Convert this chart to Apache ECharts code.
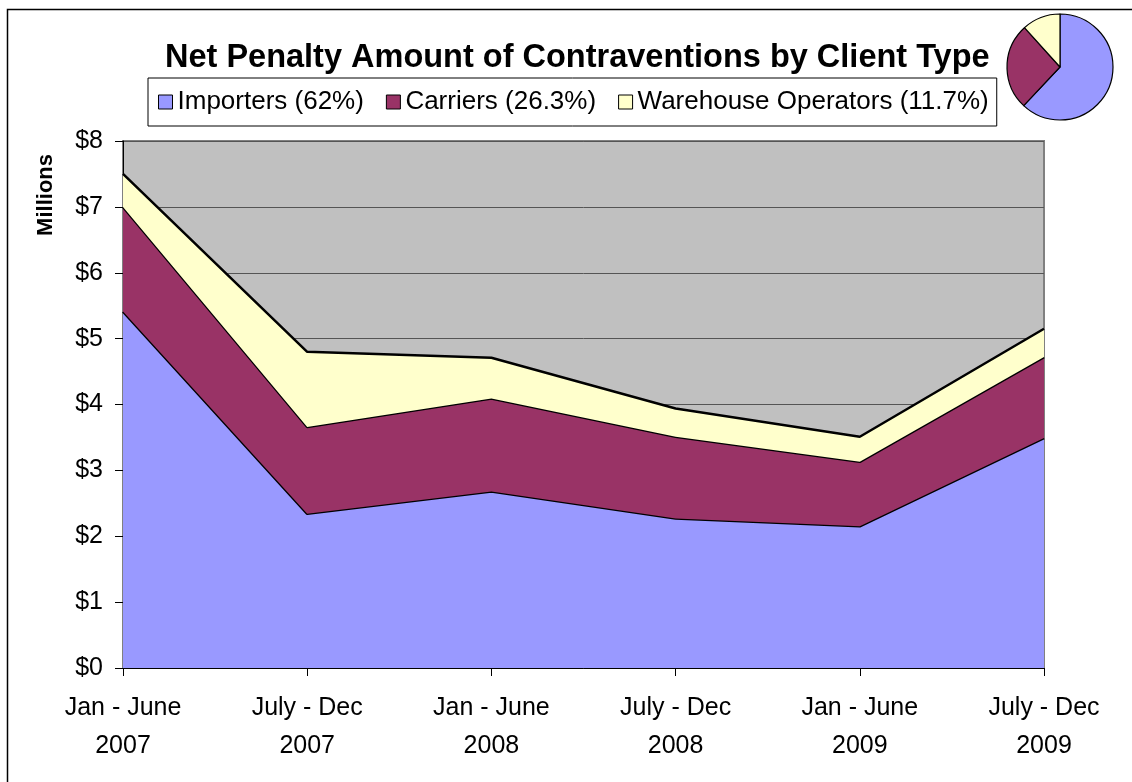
<!DOCTYPE html>
<html>
<head>
<meta charset="utf-8">
<script src="https://cdn.jsdelivr.net/npm/echarts@6/dist/echarts.min.js"></script>
<style>
html,body{margin:0;padding:0;background:#fff;}
#chart{width:1132px;height:782px;}
</style>
</head>
<body>
<div id="chart"></div>
<script>
// ---- data ----
const periods = ['Jan - June', 'July - Dec', 'Jan - June', 'July - Dec', 'Jan - June', 'July - Dec'];
const years = ['2007', '2007', '2008', '2008', '2009', '2009'];
const seriesNames = ['Importers', 'Carriers', 'Warehouse Operators'];
const importers = [5.41, 2.34, 2.68, 2.27, 2.15, 3.49];
const carriers = [1.59, 1.32, 1.41, 1.24, 0.98, 1.23];
const warehouse = [0.50, 1.14, 0.62, 0.43, 0.38, 0.43];
const shares = [62, 26.3, 11.7];
const yTicks = [0, 1, 2, 3, 4, 5, 6, 7, 8];

const colors = ['#9999FF', '#993366', '#FFFFCC'];
const categories = periods.map((p, i) => p + '\n' + years[i]);
const labels = seriesNames.map((n, i) => n + ' (' + shares[i] + '%)');
const values = [importers, carriers, warehouse];

const chart = echarts.init(document.getElementById('chart'));
const font = 'Liberation Sans, Arial, sans-serif';

const areaSeries = values.map((v, i) => ({
  name: labels[i],
  type: 'line',
  stack: 'total',
  data: v,
  symbol: 'none',
  z: 2 + i,
  lineStyle: { color: '#000', width: 2.5 },
  itemStyle: { color: colors[i], borderColor: '#000' },
  areaStyle: { color: colors[i], opacity: 1 }
}));

chart.setOption({
  animation: false,
  textStyle: { fontFamily: font },
  title: {
    text: 'Net Penalty Amount of Contraventions by Client Type',
    left: 160,
    top: 37,
    textStyle: { fontFamily: font, fontSize: 32.5, fontWeight: 'bold', color: '#000' }
  },
  legend: {
    data: labels,
    left: 148,
    top: 78,
    orient: 'horizontal',
    borderColor: '#000',
    borderWidth: 1,
    padding: [11, 8, 11, 10],
    itemGap: 22,
    itemWidth: 14,
    itemHeight: 14,
    icon: 'rect',
    itemStyle: { borderColor: '#000', borderWidth: 1 },
    textStyle: { fontFamily: font, fontSize: 26, color: '#000' }
  },
  graphic: [{
    type: 'rect',
    shape: { x: 7.5, y: 9.5, width: 1200, height: 900 },
    style: { fill: 'none', stroke: '#000', lineWidth: 1.5 },
    silent: true,
    z: 100
  }, {
    type: 'text',
    left: 35,
    top: 154,
    rotation: Math.PI / 2,
    style: { text: 'Millions', font: 'bold 22px ' + font, fill: '#000' }
  }],
  grid: {
    left: 123,
    right: 88,
    top: 141,
    bottom: 114,
    show: true,
    backgroundColor: '#C0C0C0',
    borderColor: '#808080',
    borderWidth: 2
  },
  xAxis: {
    type: 'category',
    data: categories,
    boundaryGap: false,
    axisLine: { lineStyle: { color: '#000', width: 1 } },
    axisTick: { show: true, length: 8, lineStyle: { color: '#000' } },
    axisLabel: { fontFamily: font, fontSize: 25, color: '#000', margin: 21, lineHeight: 38 },
    splitLine: { show: false }
  },
  yAxis: {
    type: 'value',
    min: yTicks[0],
    max: yTicks[yTicks.length - 1],
    interval: 1,
    axisLine: { show: true, lineStyle: { color: '#000', width: 1 } },
    axisTick: { show: true, length: 8, lineStyle: { color: '#000' } },
    axisLabel: { fontFamily: font, fontSize: 25, color: '#000', margin: 20, formatter: v => '$' + v },
    splitLine: { show: true, lineStyle: { color: '#555', width: 1 } }
  },
  series: areaSeries.concat([{
    type: 'pie',
    center: [1060, 67],
    radius: 53,
    startAngle: 90,
    clockwise: true,
    silent: true,
    label: { show: false },
    labelLine: { show: false },
    itemStyle: { borderColor: '#000', borderWidth: 1.2 },
    data: shares.map((s, i) => ({ name: labels[i], value: s, itemStyle: { color: colors[i] } }))
  }])
});
</script>
</body>
</html>
